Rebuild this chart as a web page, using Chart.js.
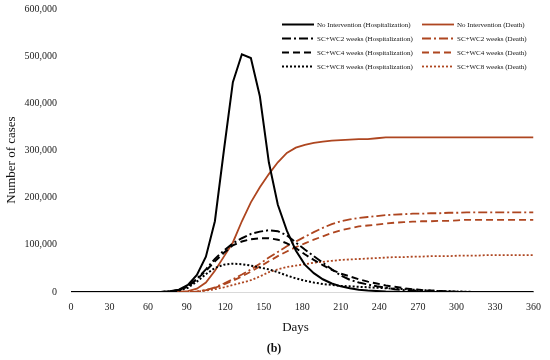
<!DOCTYPE html>
<html>
<head>
<meta charset="utf-8">
<script src="https://cdn.jsdelivr.net/npm/chart.js@4.4.1/dist/chart.umd.min.js"></script>
<style>
  html, body { margin: 0; padding: 0; background: #ffffff; }
  #wrap { width: 550px; height: 360px; position: relative; }
</style>
</head>
<body>
<div id="wrap"><canvas id="c" width="550" height="360"></canvas></div>
<script>
// ---- data (values in thousands of cases) ----
const days = [0,7,14,21,28,35,42,49,56,63,70,77,84,91,98,105,112,119,126,133,140,147,154,161,168,175,182,189,196,203,210,217,224,231,238,245,252,259,266,273,280,287,294,301,308,315,322,329,336,343,350,357,360];

const noIntHosp = [0,0,0,0,0,0,0,0,0,0,0,1.5,5,15,36,75,150,300,445,504,496,415,275,185,130,88,58,40,27,18,12,8,5,3,2,1,0.5,0,0,0,0,0,0,0,0,0,0,0,0,0,0,0,0];
const wc2Hosp   = [0,0,0,0,0,0,0,0,0,0,0,1,4,12,28,48,70,88,103,114,123,128,131,129,120,105,90,76,62,48,35,26,20,16,12,9,6,4,3,2,1.5,1,0.5,0.2,0,0,0,0,0,0,0,0,0];
const wc4Hosp   = [0,0,0,0,0,0,0,0,0,0,0,1,4,12,27,45,65,83,99,107,112,114,114,111,103,93,80,68,57,47,39,33,27,22,18,14,11,8,6,4,3,2,1,0.5,0,0,0,0,0,0,0,0,0];
const wc8Hosp   = [0,0,0,0,0,0,0,0,0,0,0,1,3,9,22,38,51,58,60,59,56,52,48,42,35,29,24,20,17,15,13,12,11,10,9,8,7,6,5,4,3,2,1.5,1,0.5,0,0,0,0,0,0,0,0];

const noIntDeath = [0,0,0,0,0,0,0,0,0,0,0,0,0.5,2,7,20,45,75,105,150,190,222,250,275,295,306,312,316,319,321,322,323,324,324,326,328,328,328,328,328,328,328,328,328,328,328,328,328,328,328,328,328,328];
const wc2Death   = [0,0,0,0,0,0,0,0,0,0,0,0,0,0,1,4,10,18,27,37,48,60,73,85,97,107,117,127,136,144,150,154,157,159,161,163,164,165,166,166,167,167,168,168,169,169,169,169,169,169,169,169,169];
const wc4Death   = [0,0,0,0,0,0,0,0,0,0,0,0,0,0,1,4,9,16,24,33,43,54,65,76,86,95,103,111,118,125,131,135,139,141,143,145,147,148,149,150,150,151,151,152,153,153,153,153,153,153,153,153,153];
const wc8Death   = [0,0,0,0,0,0,0,0,0,0,0,0,0,0,1,3,6,10,15,20,25,33,42,48,53,56,59,62,64,66,68,69,70,71,72,73,74,74,75,75,76,76,76,77,77,77,78,78,78,78,78,78,78];

const seriesLabels = [
  'No Intervention (Hospitalization)',
  'SC+WC2 weeks (Hospitalization)',
  'SC+WC4 weeks (Hospitalization)',
  'SC+WC8 weeks (Hospitalization)',
  'No Intervention (Death)',
  'SC+WC2 weeks (Death)',
  'SC+WC4 weeks (Death)',
  'SC+WC8 weeks (Death)'
];
const seriesValues = [noIntHosp, wc2Hosp, wc4Hosp, wc8Hosp, noIntDeath, wc2Death, wc4Death, wc8Death];
const xTicks = [0,30,60,90,120,150,180,210,240,270,300,330,360];
const yTicks = [0,100000,200000,300000,400000,500000,600000];
const UNIT = 1000;

// ---- styles ----
const BLACK = '#000000';
const BROWN = '#AE4620';
const DASHES = [[], [9,3,2,3], [7,4], [2,2]];
const FONT = '"Liberation Serif", "DejaVu Serif", serif';

const datasets = seriesValues.map((vals, i) => ({
  label: seriesLabels[i],
  data: days.map((d, k) => ({ x: d, y: vals[k] * UNIT })),
  borderColor: i < 4 ? BLACK : BROWN,
  borderWidth: i < 4 ? 2 : 1.8,
  borderDash: DASHES[i % 4],
  pointRadius: 0,
  tension: 0,
  fill: false
}));

const textPlugin = {
  id: 'texts',
  afterDraw(chart) {
    const ctx = chart.ctx;
    ctx.save();
    // legend
    ctx.font = '7px ' + FONT;
    ctx.textBaseline = 'middle';
    ctx.textAlign = 'left';
    chart.data.datasets.forEach((ds, i) => {
      const col = Math.floor(i / 4), row = i % 4;
      const x0 = col === 0 ? 282 : 422;
      const y = 24.5 + row * 14;
      ctx.beginPath();
      ctx.strokeStyle = ds.borderColor;
      ctx.lineWidth = ds.borderWidth;
      ctx.setLineDash(ds.borderDash);
      ctx.moveTo(x0, y);
      ctx.lineTo(x0 + 32, y);
      ctx.stroke();
      ctx.setLineDash([]);
      ctx.fillStyle = '#111';
      ctx.fillText(ds.label, x0 + 35, y + 0.5);
    });
    // axis titles
    ctx.fillStyle = '#111';
    ctx.font = '13px ' + FONT;
    ctx.textAlign = 'center';
    ctx.textBaseline = 'middle';
    ctx.fillText('Days', 295.5, 328);
    ctx.save();
    ctx.translate(12, 160);
    ctx.rotate(-Math.PI / 2);
    ctx.fillText('Number of cases', 0, 0);
    ctx.restore();
    ctx.font = 'bold 12px ' + FONT;
    ctx.fillText('(b)', 274, 349);
    ctx.restore();
  }
};

new Chart(document.getElementById('c'), {
  type: 'line',
  data: { datasets },
  options: {
    responsive: false,
    animation: false,
    devicePixelRatio: 1,
    layout: { padding: { top: 0, right: 10, bottom: 0, left: 0 } },
    plugins: { legend: { display: false }, tooltip: { enabled: false } },
    scales: {
      x: {
        type: 'linear',
        min: 0, max: 360,
        afterBuildTicks: s => { s.ticks = xTicks.map(v => ({ value: v })); },
        afterFit: s => { s.height = 68; },
        grid: { display: false, drawTicks: false },
        border: { display: true, color: '#d9d9d9', width: 1 },
        ticks: { padding: 9, color: '#1a1a1a', font: { family: FONT, size: 10 }, maxRotation: 0 }
      },
      y: {
        min: 0, max: 600000,
        afterBuildTicks: s => { s.ticks = yTicks.map(v => ({ value: v })); },
        afterFit: s => { s.width = 71; s.paddingTop = 9; s.paddingBottom = 0; },
        grid: { display: false, drawTicks: false },
        border: { display: false },
        ticks: {
          padding: 14, color: '#1a1a1a', font: { family: FONT, size: 10 },
          callback: v => Number(v).toLocaleString('en-US')
        }
      }
    }
  },
  plugins: [textPlugin]
});
</script>
</body>
</html>
